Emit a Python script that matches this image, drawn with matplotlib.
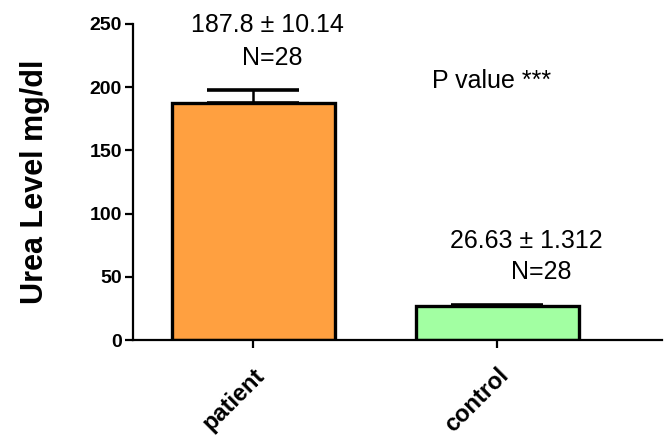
import matplotlib
matplotlib.use('Agg')
import matplotlib.pyplot as plt

# Urea level, patient vs control
groups = ['patient', 'control']
means = [187.8, 26.63]
sems = [10.14, 1.312]
n_values = [28, 28]
bar_colors = ['#FFA040', '#A2FFA2']

plt.rcParams['font.family'] = ['Liberation Sans', 'DejaVu Sans']

fig = plt.figure(figsize=(6.65, 4.41), dpi=100)
ax = fig.add_axes([0.2, 0.229, 0.7955, 0.7166])

x = list(range(len(groups)))
ax.bar(x, means, width=0.668, color=bar_colors, edgecolor='black', linewidth=2.4, zorder=2)
# only the upper half of the error bar is shown
ax.errorbar(x, means, yerr=[[0] * len(sems), sems], fmt='none', ecolor='black',
            elinewidth=1.8, capsize=33, capthick=2.6, zorder=3)

ax.set_xlim(-0.492, 1.676)
ax.set_ylim(0, 250)
ax.set_yticks([0, 50, 100, 150, 200, 250])
ax.set_xticks(x)
ax.set_xticklabels(groups, rotation=45, ha='right', rotation_mode='anchor',
                   fontsize=17, fontweight='bold')
for lbl in ax.get_yticklabels():
    lbl.set_fontsize(14)
    lbl.set_fontweight('bold')

for side in ['top', 'right']:
    ax.spines[side].set_visible(False)
for side in ['left', 'bottom']:
    ax.spines[side].set_linewidth(1.6)
ax.tick_params(axis='both', length=6, width=1.6, pad=2)
ax.tick_params(axis='x', pad=11)

ax.set_ylabel('Urea Level mg/dl', fontsize=22, fontweight='bold', labelpad=28)

# value labels
ax.text(0.057, 249, f'{means[0]} ± {sems[0]}', ha='center', va='center', fontsize=18)
ax.text(0.078, 223, f'N={n_values[0]}', ha='center', va='center', fontsize=18)
ax.text(1.119, 78, f'{means[1]} ± {sems[1]}', ha='center', va='center', fontsize=18)
ax.text(1.18, 54, f'N={n_values[1]}', ha='center', va='center', fontsize=18)
ax.text(0.734, 205, 'P value ***', ha='left', va='center', fontsize=18)

for t in ax.texts:
    t.set_clip_on(False)

fig.savefig('out.png', dpi=100)
